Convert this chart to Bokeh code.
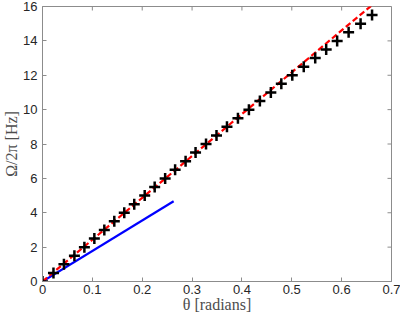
import math
from bokeh.plotting import figure
from bokeh.models import Range1d, FixedTicker
from bokeh.embed import file_html
from bokeh.resources import INLINE

# measured points (crosses)
theta_pts = [0, 0.022, 0.043, 0.064, 0.084, 0.104, 0.124, 0.144, 0.164, 0.184,
             0.205, 0.225, 0.246, 0.266, 0.287, 0.307, 0.328, 0.349, 0.370, 0.392,
             0.414, 0.436, 0.458, 0.479, 0.501, 0.524, 0.547, 0.569, 0.591, 0.614,
             0.638, 0.661]
omega_pts = [0, 0.5, 1, 1.5, 2, 2.5, 3, 3.5, 4, 4.5, 5, 5.5, 6, 6.5, 7, 7.5,
             8, 8.5, 9, 9.5, 10, 10.5, 11, 11.5, 12, 12.5, 13, 13.5, 14, 14.5,
             15, 15.5]

# red dashed fit
theta_fit = [0, 0.1, 0.2, 0.3, 0.4, 0.5, 0.6, 0.67]
omega_fit = [0, 2.43, 4.87, 7.3, 9.74, 12.17, 14.61, 16.3]

# blue linear approximation
theta_lin = [0, 0.263]
omega_lin = [0, 4.67]

x_ticks = [0, 0.1, 0.2, 0.3, 0.4, 0.5, 0.6, 0.7]
y_ticks = [0, 2, 4, 6, 8, 10, 12, 14, 16]
x_min, x_max = 0, 0.7
y_min, y_max = 0, 16

GRAY = "#8c8c8c"
TXT = "#262626"

p = figure(width=400, height=315, output_backend="svg", toolbar_location=None,
           x_range=Range1d(x_min, x_max), y_range=Range1d(y_min, y_max),
           min_border_left=36, min_border_right=9, min_border_top=6,
           min_border_bottom=30, background_fill_color="white",
           border_fill_color="white")
p.xgrid.visible = False
p.ygrid.visible = False
p.outline_line_color = GRAY
p.outline_line_width = 1

for ax, ticks in ((p.xaxis[0], x_ticks), (p.yaxis[0], y_ticks)):
    ax.ticker = FixedTicker(ticks=ticks)
    ax.axis_line_color = GRAY
    ax.major_tick_line_color = GRAY
    ax.major_tick_in = 4
    ax.major_tick_out = 0
    ax.minor_tick_line_color = None
    ax.major_label_text_font = "Liberation Sans"
    ax.major_label_text_font_size = "13px"
    ax.major_label_text_color = TXT
    ax.axis_label_text_font = "Liberation Serif"
    ax.axis_label_text_font_style = "normal"
    ax.axis_label_text_font_size = "16px"
    ax.axis_label_text_color = "#4d4d4d"

p.xaxis[0].major_label_standoff = 3
p.xaxis[0].axis_label_standoff = -1
p.yaxis[0].major_label_standoff = 5
p.yaxis[0].axis_label_standoff = 0
p.xaxis[0].axis_label = "θ [radians]"
p.yaxis[0].axis_label = "Ω/2π [Hz]"

# mirrored inward ticks on the top and right edges
p.ray(x=x_ticks, y=[y_max] * len(x_ticks), length=4, length_units="screen",
      angle=-math.pi / 2, line_color=GRAY, line_width=1)
p.ray(x=[x_max] * len(y_ticks), y=y_ticks, length=4, length_units="screen",
      angle=math.pi, line_color=GRAY, line_width=1)

p.line(theta_lin, omega_lin, line_color="#0000ff", line_width=2.2)
p.line(theta_fit, omega_fit, line_color="#ff0000", line_width=2.2, line_dash="6 3")
p.scatter(theta_pts, omega_pts, marker="cross", size=11, line_color="black",
          line_width=2.5)

open("out.html", "w").write(file_html(p, INLINE))
